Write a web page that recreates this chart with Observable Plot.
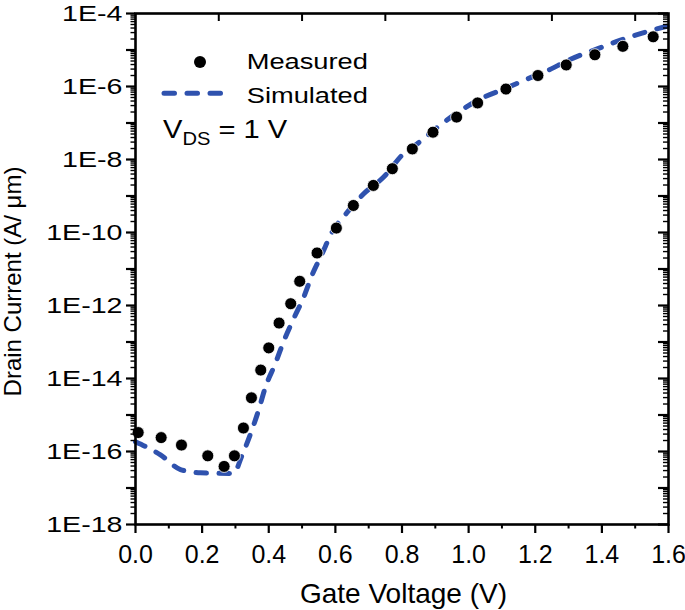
<!DOCTYPE html>
<html>
<head>
<meta charset="utf-8">
<script src="https://cdn.jsdelivr.net/npm/d3@7"></script>
<script src="https://cdn.jsdelivr.net/npm/@observablehq/plot@0.6"></script>
<style>
  html, body { margin: 0; padding: 0; background: #fff; }
  #chart svg { display: block; }
</style>
</head>
<body>
<div id="chart"></div>
<script>
// ---- Data ----
const measuredVg = [0.008, 0.077, 0.138, 0.217, 0.266, 0.297, 0.324, 0.348, 0.376, 0.400,
                    0.431, 0.466, 0.493, 0.545, 0.603, 0.654, 0.714, 0.771, 0.831, 0.893,
                    0.964, 1.027, 1.112, 1.208, 1.293, 1.379, 1.463, 1.554];
const measuredId = [3.3e-16, 2.4e-16, 1.5e-16, 7.6e-17, 3.9e-17, 7.6e-17, 4.4e-16, 2.95e-15, 1.7e-14, 6.9e-14,
                    3.3e-13, 1.12e-12, 4.6e-12, 2.75e-11, 1.32e-10, 5.5e-10, 1.95e-9, 5.6e-9, 1.95e-8, 5.6e-8,
                    1.45e-7, 3.55e-7, 8.5e-7, 2.0e-6, 3.9e-6, 7.4e-6, 1.26e-5, 2.3e-5];
const simulatedVg = [0, 0.075, 0.135, 0.195, 0.294, 0.320, 0.345, 0.370, 0.390, 0.420,
                     0.444, 0.475, 0.505, 0.530, 0.560, 0.590, 0.636, 0.685, 0.745, 0.805,
                     0.846, 0.906, 0.976, 1.036, 1.106, 1.176, 1.236, 1.306, 1.386, 1.456,
                     1.526, 1.600];
const simulatedId = [1.86e-16, 8.1e-17, 3.2e-17, 2.6e-17, 2.5e-17, 7.9e-17, 3.0e-16, 1.4e-15, 5.8e-15, 2.6e-14,
                     1.0e-13, 4.4e-13, 1.7e-12, 6.8e-12, 2.6e-11, 1.02e-10, 3.6e-10, 1.15e-9, 3.3e-9, 1.45e-8,
                     2.7e-8, 7.6e-8, 2.2e-7, 4.6e-7, 8.5e-7, 1.6e-6, 2.7e-6, 5.6e-6, 1.07e-5, 1.86e-5,
                     3.0e-5, 4.6e-5];

// ---- Axes: domains, ticks and labels ----
const xDomain = [0, 1.6];
const yDomain = [1e-18, 1e-4];
const xTicks = [0, 0.2, 0.4, 0.6, 0.8, 1.0, 1.2, 1.4, 1.6];
const xTickLabels = ["0.0", "0.2", "0.4", "0.6", "0.8", "1.0", "1.2", "1.4", "1.6"];
const xMinorTicks = [0.1, 0.3, 0.5, 0.7, 0.9, 1.1, 1.3, 1.5];
const xTopTicks = [0.25, 0.5, 0.75, 1.0, 1.25, 1.5];
const yDecades = [1e-18, 1e-17, 1e-16, 1e-15, 1e-14, 1e-13, 1e-12, 1e-11, 1e-10, 1e-9, 1e-8, 1e-7, 1e-6, 1e-5, 1e-4];
const yLabelValues = [1e-18, 1e-16, 1e-14, 1e-12, 1e-10, 1e-8, 1e-6, 1e-4];
const yTickLabels = ["1E-18", "1E-16", "1E-14", "1E-12", "1E-10", "1E-8", "1E-6", "1E-4"];
const minorMultipliers = [2, 3, 4, 5, 6, 7, 8, 9];
const yMinorTicks = yDecades.slice(0, -1).flatMap(d => minorMultipliers.map(m => m * d));

const xLabel = "Gate Voltage (V)";
const yLabel = "Drain Current (A/ μm)";
const seriesNames = ["Measured", "Simulated"];

// ---- Layout & style ----
const W = 685, H = 610;
const mL = 135, mR = 17, mT = 13, mB = 86;
const fw = W - mL - mR, fh = H - mT - mB;
const blue = "#2f52ae";
const ink = "#000";
const font = "'Liberation Sans', Arial, Helvetica, sans-serif";

const measured = measuredVg.map((v, i) => ({vg: v, id: measuredId[i]}));
const simulated = simulatedVg.map((v, i) => ({vg: v, id: simulatedId[i]}));

const plot = Plot.plot({
  width: W, height: H,
  marginLeft: mL, marginRight: mR, marginTop: mT, marginBottom: mB,
  style: {fontFamily: font, color: ink, background: "#fff"},
  x: {domain: xDomain},
  y: {type: "log", domain: yDomain},
  marks: [
    Plot.line(simulated, {x: "vg", y: "id", stroke: blue, strokeWidth: 5, strokeDasharray: "10.5 12.5", strokeLinecap: "round", curve: "monotone-x"}),
    Plot.dot(measured, {x: "vg", y: "id", r: 6, fill: ink, stroke: "#fff", strokeWidth: 0.8}),
    // bottom axis
    Plot.axisX({anchor: "bottom", ticks: xTicks, tickSize: 9, tickPadding: 12, stroke: ink, strokeWidth: 2.2,
                tickFormat: d => xTickLabels[xTicks.indexOf(d)], fontSize: 25, label: null}),
    Plot.tickX(xMinorTicks, {x: d => d, insetTop: fh, insetBottom: -4.5, stroke: ink, strokeWidth: 2}),
    // top axis: inward ticks
    Plot.tickX(xTopTicks, {x: d => d, insetTop: 0, insetBottom: fh - 8, stroke: ink, strokeWidth: 2}),
    // left axis
    Plot.axisY({anchor: "left", ticks: yDecades, tickSize: 9, tickPadding: 4, stroke: ink, strokeWidth: 2.2,
                tickFormat: d => { const i = yLabelValues.indexOf(d); return i >= 0 ? yTickLabels[i] : ""; },
                fontSize: 22, label: null}),
    Plot.tickY(yMinorTicks, {y: d => d, insetLeft: -4.5, insetRight: fw, stroke: ink, strokeWidth: 1.4}),
    // right axis: inward ticks
    Plot.tickY(yDecades, {y: d => d, insetLeft: fw - 10, insetRight: 0, stroke: ink, strokeWidth: 2.2}),
    Plot.tickY(yMinorTicks, {y: d => d, insetLeft: fw - 5, insetRight: 0, stroke: ink, strokeWidth: 1.4}),
    // box
    Plot.frame({stroke: ink, strokeWidth: 2.6})
  ]
});

document.getElementById("chart").appendChild(plot);
const svg = d3.select(plot);

// widen y tick labels horizontally (the reference uses wide glyphs)
svg.selectAll('g[aria-label="y-axis tick label"] text').each(function () {
  const t = this.getAttribute("transform") || "";
  this.setAttribute("transform", t + " scale(1.3,1)");
});

// axis titles
svg.append("text")
  .attr("x", mL + fw / 2 + 2).attr("y", H - 7)
  .attr("text-anchor", "middle")
  .attr("font-family", font).attr("font-size", 28).attr("fill", ink)
  .text(xLabel);

svg.append("text")
  .attr("transform", `translate(21,${mT + fh / 2 + 13}) rotate(-90)`)
  .attr("text-anchor", "middle")
  .attr("font-family", font).attr("font-size", 24).attr("fill", ink)
  .text(yLabel);

// legend (inside the frame, top-left)
const lg = svg.append("g").attr("font-family", font).attr("fill", ink).attr("text-anchor", "start");
lg.append("circle").attr("cx", mL + 65).attr("cy", mT + 49).attr("r", 6).attr("fill", ink);
lg.append("text").attr("transform", `translate(${mL + 111.7},${mT + 56.3}) scale(1.24,1)`).attr("font-size", 22)
  .text(seriesNames[0]);
lg.append("line").attr("x1", mL + 29).attr("x2", mL + 85.5).attr("y1", mT + 80.3).attr("y2", mT + 80.3)
  .attr("stroke", blue).attr("stroke-width", 5).attr("stroke-dasharray", "10.5 12.5").attr("stroke-linecap", "round");
lg.append("text").attr("transform", `translate(${mL + 111.7},${mT + 89.7}) scale(1.24,1)`).attr("font-size", 22)
  .text(seriesNames[1]);

const vds = lg.append("text").attr("transform", `translate(${mL + 28},${mT + 125}) scale(1.12,1)`).attr("font-size", 26);
vds.append("tspan").text("V");
vds.append("tspan").attr("font-size", 18).attr("dy", 7).text("DS");
vds.append("tspan").attr("dy", -7).text(" = 1 V");
</script>
</body>
</html>
